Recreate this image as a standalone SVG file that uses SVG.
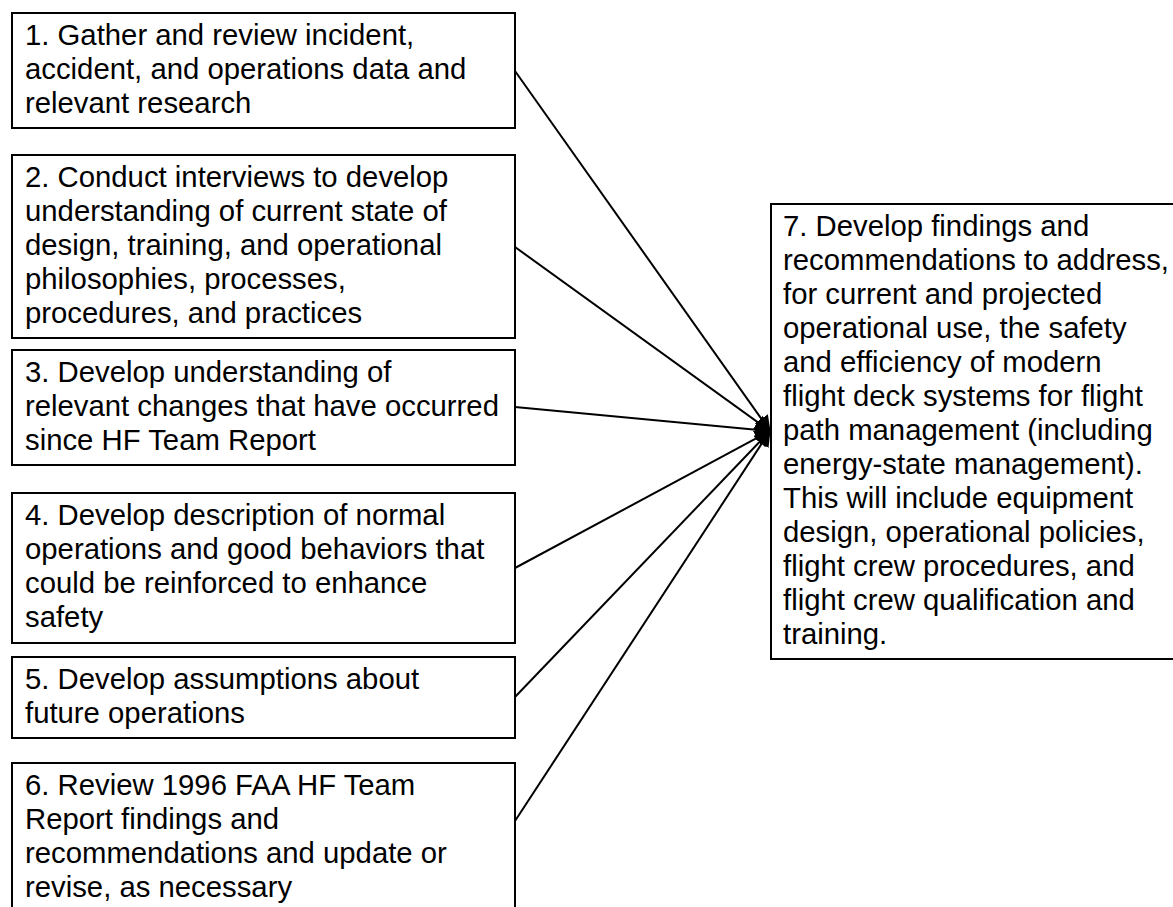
<svg xmlns="http://www.w3.org/2000/svg" width="1173" height="907" viewBox="0 0 1173 907">
<style>
.box{fill:#fff;stroke:#000;stroke-width:2}
.t{font-family:"Liberation Sans",Arial,sans-serif;font-size:29.3px;fill:#000}
.c{stroke:#000;stroke-width:2;fill:none;marker-end:url(#ah)}
</style>
<defs>
<marker id="ah" viewBox="0 0 16 16" refX="15" refY="8" markerWidth="16" markerHeight="16" markerUnits="userSpaceOnUse" orient="auto">
<path d="M0,0 L16,8 L0,16 z" fill="#000"/>
</marker>
</defs>
<rect width="1173" height="907" fill="#fff"/>
<g id="connectors">
<line class="c" x1="515" y1="71" x2="770" y2="431"/>
<line class="c" x1="515" y1="247" x2="770" y2="431"/>
<line class="c" x1="515" y1="407" x2="770" y2="431"/>
<line class="c" x1="515" y1="568" x2="770" y2="431"/>
<line class="c" x1="515" y1="697" x2="770" y2="431"/>
<line class="c" x1="515" y1="821" x2="770" y2="431"/>
</g>
<g id="n1">
<rect class="box" x="12" y="13" width="503" height="115"/>
<text class="t" x="25" y="45">1. Gather and review incident,<tspan x="25" dy="34">accident, and operations data and</tspan><tspan x="25" dy="34">relevant research</tspan></text>
</g>
<g id="n2">
<rect class="box" x="12" y="155" width="503" height="183"/>
<text class="t" x="25" y="187">2. Conduct interviews to develop<tspan x="25" dy="34">understanding of current state of</tspan><tspan x="25" dy="34">design, training, and operational</tspan><tspan x="25" dy="34">philosophies, processes,</tspan><tspan x="25" dy="34">procedures, and practices</tspan></text>
</g>
<g id="n3">
<rect class="box" x="12" y="350" width="503" height="115"/>
<text class="t" x="25" y="382">3. Develop understanding of<tspan x="25" dy="34">relevant changes that have occurred</tspan><tspan x="25" dy="34">since HF Team Report</tspan></text>
</g>
<g id="n4">
<rect class="box" x="12" y="493" width="503" height="150"/>
<text class="t" x="25" y="525">4. Develop description of normal<tspan x="25" dy="34">operations and good behaviors that</tspan><tspan x="25" dy="34">could be reinforced to enhance</tspan><tspan x="25" dy="34">safety</tspan></text>
</g>
<g id="n5">
<rect class="box" x="12" y="657" width="503" height="81"/>
<text class="t" x="25" y="689">5. Develop assumptions about<tspan x="25" dy="34">future operations</tspan></text>
</g>
<g id="n6">
<rect class="box" x="12" y="763" width="503" height="160"/>
<text class="t" x="25" y="795">6. Review 1996 FAA HF Team<tspan x="25" dy="34">Report findings and</tspan><tspan x="25" dy="34">recommendations and update or</tspan><tspan x="25" dy="34">revise, as necessary</tspan></text>
</g>
<g id="n7">
<rect class="box" x="771" y="204" width="420" height="455"/>
<text class="t" x="783" y="236">7. Develop findings and<tspan x="783" dy="34">recommendations to address,</tspan><tspan x="783" dy="34">for current and projected</tspan><tspan x="783" dy="34">operational use, the safety</tspan><tspan x="783" dy="34">and efficiency of modern</tspan><tspan x="783" dy="34">flight deck systems for flight</tspan><tspan x="783" dy="34">path management (including</tspan><tspan x="783" dy="34">energy-state management).</tspan><tspan x="783" dy="34">This will include equipment</tspan><tspan x="783" dy="34">design, operational policies,</tspan><tspan x="783" dy="34">flight crew procedures, and</tspan><tspan x="783" dy="34">flight crew qualification and</tspan><tspan x="783" dy="34">training.</tspan></text>
</g>
</svg>
